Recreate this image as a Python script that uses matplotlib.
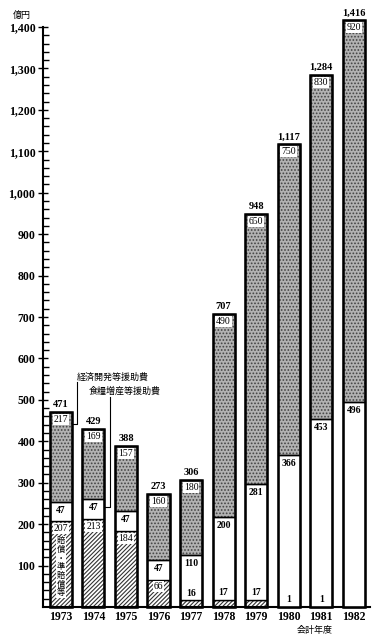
import matplotlib
matplotlib.use("Agg")
import matplotlib.pyplot as plt
import numpy as np

years = ["1973", "1974", "1975", "1976", "1977", "1978", "1979", "1980", "1981", "1982"]
reparations = [207, 213, 184, 66, 16, 17, 17, 1, 1, 0]
food_aid = [47, 47, 47, 47, 110, 200, 281, 366, 453, 496]
econ_aid = [217, 169, 157, 160, 180, 490, 650, 750, 830, 920]
totals = [471, 429, 388, 273, 306, 707, 948, 1117, 1284, 1416]
yticks = [100, 200, 300, 400, 500, 600, 700, 800, 900, 1000, 1100, 1200, 1300, 1400]

plt.rcParams['hatch.linewidth'] = 0.8
serif = ['Liberation Serif', 'DejaVu Serif']
jp = ['Noto Sans CJK JP', 'DejaVu Sans']

fig = plt.figure(figsize=(3.74, 6.38), dpi=100)
ax = fig.add_axes([43/374, 1-607/638, (370-43)/374, (607-27)/638])

x = np.arange(len(years))
w = 0.68
rep = np.array(reparations)
food = np.array(food_aid)
econ = np.array(econ_aid)

# bottom: hatched
ax.bar(x, rep, w, color='white', edgecolor='#333333', hatch='////////', linewidth=0, clip_on=False, zorder=2)
ax.bar(x, rep, w, fill=False, edgecolor='black', linewidth=1.0, clip_on=False, zorder=3)
# middle: white
ax.bar(x, food, w, bottom=rep, color='white', edgecolor='black', linewidth=1.0, clip_on=False, zorder=3)
# top: dotted gray
ax.bar(x, econ, w, bottom=rep+food, color='#b2b2b2', edgecolor='#444444', hatch='.....', linewidth=0, clip_on=False, zorder=2)
ax.bar(x, econ, w, bottom=rep+food, fill=False, edgecolor='black', linewidth=1.0, clip_on=False, zorder=3)
# outer outline
ax.bar(x, rep+food+econ, w, fill=False, edgecolor='black', linewidth=1.8, clip_on=False, zorder=4)

bb = dict(boxstyle='square,pad=0.1', facecolor='white', edgecolor='none')
for i in range(len(years)):
    top = rep[i] + food[i] + econ[i]
    t = totals[i]
    ax.annotate(f"{t:,}", (x[i], top), xytext=(0, 2), textcoords='offset points',
                ha='center', va='bottom', fontsize=7.5, family=serif, fontweight='bold',
                annotation_clip=False)
    ax.annotate(str(econ[i]), (x[i], top), xytext=(0, -2), textcoords='offset points',
                ha='center', va='top', fontsize=7, family=serif, bbox=bb, zorder=5,
                annotation_clip=False)
    ax.annotate(str(food[i]), (x[i], rep[i] + food[i]), xytext=(0, -3), textcoords='offset points',
                ha='center', va='top', fontsize=7, family=serif, fontweight='bold', zorder=5)
    if rep[i] >= 50:
        ax.annotate(str(rep[i]), (x[i], rep[i]), xytext=(0, -2), textcoords='offset points',
                    ha='center', va='top', fontsize=7, family=serif, bbox=bb, zorder=5)
    elif rep[i] > 0:
        ax.annotate(str(rep[i]), (x[i], rep[i]), xytext=(0, 2), textcoords='offset points',
                    ha='center', va='bottom', fontsize=7, family=serif, fontweight='bold', zorder=5)

# vertical label in 1973 bar
ax.text(x[0], 97, "\n".join("賠償・準賠償等"), ha='center', va='center', fontsize=6,
        family=jp, linespacing=0.95, bbox=bb, zorder=5)

# annotations
ax.text(1.6, 555, "経済開発等援助費", ha='center', va='center', fontsize=6.5, family=jp)
ax.plot([0.49, 0.49, 0.34], [542, 442, 442], color='black', lw=0.8, clip_on=False)
ax.text(1.95, 522, "食糧増産等援助費", ha='center', va='center', fontsize=6.5, family=jp)
ax.plot([1.51, 1.51, 1.34], [507, 241, 241], color='black', lw=0.8, clip_on=False)

ax.set_xlim(-0.55, 9.5)
ax.set_ylim(0, 1400)
ax.spines['top'].set_visible(False)
ax.spines['right'].set_visible(False)
ax.spines['left'].set_linewidth(1.5)
ax.spines['bottom'].set_linewidth(1.5)
ax.set_yticks(yticks)
ax.set_yticklabels([f"{v:,}" for v in yticks], family=serif, fontsize=8.5, fontweight='bold')
ax.set_yticks(np.arange(20, 1400, 20), minor=True)
ax.tick_params(axis='y', which='major', direction='inout', length=7, width=1.0, pad=2)
ax.tick_params(axis='y', which='minor', direction='in', length=4, width=1.0)
ax.set_xticks(x)
ax.set_xticklabels(years, family=serif, fontsize=8.5, fontweight='bold')
ax.tick_params(axis='x', length=0, pad=3)

fig.text(22/374, 1-15/638, "億円", ha='center', va='center', fontsize=6.5, family=jp)
fig.text(315/374, 1-630/638, "会計年度", ha='center', va='center', fontsize=6.5, family=jp)

fig.savefig("out.png", dpi=100)
